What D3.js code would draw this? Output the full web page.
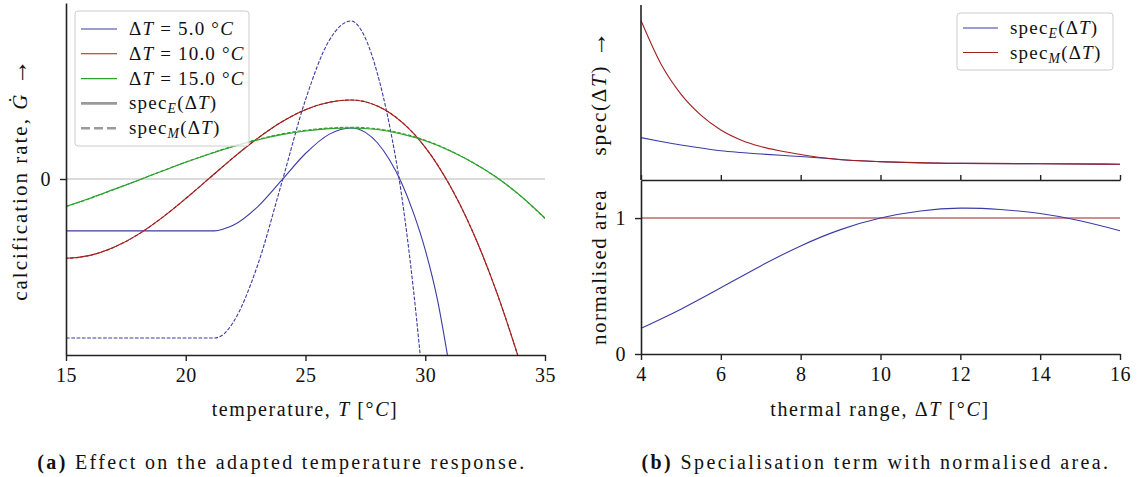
<!DOCTYPE html>
<html>
<head>
<meta charset="utf-8">
<script src="https://cdn.jsdelivr.net/npm/d3@7"></script>
<style>
  body { margin: 0; background: #fff; }
  svg text { font-family: "Liberation Serif", "DejaVu Serif", serif; fill: #111; }
</style>
</head>
<body>
<svg id="drawing_region"></svg>
<script>
// ---- panel (a): calcification rate vs temperature ----
const blueE_T = [15, 21.2, 21.6, 22, 23, 24, 25, 26, 26.9, 27.5, 28, 28.5, 29, 29.5, 30, 30.5, 31];
const blueE_G = [-0.295, -0.295, -0.283, -0.262, -0.158, -0.008, 0.145, 0.255, 0.29, 0.265, 0.206, 0.111, -0.019, -0.19, -0.403, -0.68, -1.06];
const blueM_T = [15, 21.2, 21.6, 22, 23, 24, 25, 26, 26.9, 27.5, 28, 28.5, 29, 29.5, 30];
const blueM_G = [-0.903, -0.903, -0.88, -0.81, -0.49, -0.025, 0.45, 0.79, 0.898, 0.80, 0.60, 0.31, -0.08, -0.62, -1.3];
const red_T   = [14.5, 15, 16, 17, 18, 19, 20, 21, 22, 23, 24, 25, 26, 26.9, 28, 29, 30, 31, 32, 33, 34];
const redE_G  = [-0.45, -0.45, -0.434, -0.388, -0.316, -0.221, -0.111, 0.006, 0.123, 0.231, 0.324, 0.394, 0.436, 0.449, 0.415, 0.326, 0.18, -0.03, -0.305, -0.65, -1.06];
const redM_G  = [-0.45, -0.45, -0.434, -0.388, -0.316, -0.221, -0.111, 0.006, 0.123, 0.231, 0.324, 0.394, 0.436, 0.449, 0.415, 0.326, 0.18, -0.03, -0.305, -0.65, -1.06];
const green_T = [15, 16, 17, 18, 19, 20, 21, 22, 23, 24, 25, 26, 26.9, 28, 29, 30, 31, 32, 33, 34, 35];
const greenE_G = [-0.155, -0.109, -0.059, -0.008, 0.044, 0.095, 0.142, 0.185, 0.222, 0.252, 0.273, 0.286, 0.29, 0.281, 0.256, 0.217, 0.162, 0.092, 0.007, -0.098, -0.222];
const greenM_G = [-0.157, -0.111, -0.060, -0.008, 0.045, 0.096, 0.144, 0.188, 0.225, 0.256, 0.277, 0.290, 0.294, 0.285, 0.260, 0.220, 0.164, 0.093, 0.007, -0.099, -0.225];
const tempTicks = [15, 20, 25, 30, 35];

// ---- panel (b): specialisation term and normalised area ----
const range_dT = [4, 4.5, 5, 5.5, 6, 6.5, 7, 7.5, 8, 8.5, 9, 10, 12, 14, 16];
const specE = [0.242, 0.22, 0.200, 0.183, 0.167, 0.157, 0.149, 0.141, 0.134, 0.126, 0.116, 0.104, 0.095, 0.093, 0.090];
const specM = [0.911, 0.663, 0.491, 0.371, 0.286, 0.229, 0.191, 0.166, 0.146, 0.129, 0.117, 0.105, 0.095, 0.093, 0.090];
const area_dT = [4, 5, 6, 7, 8, 9, 10, 11, 12, 13, 14, 15, 16];
const areaE = [0.189, 0.33, 0.487, 0.648, 0.795, 0.915, 1.0, 1.052, 1.073, 1.063, 1.033, 0.98, 0.907];
const areaM = [1, 1, 1, 1, 1, 1, 1, 1, 1, 1, 1, 1, 1];
const rangeTicks = [4, 6, 8, 10, 12, 14, 16];

const BLUE = '#3b3ba6', RED = '#a12020', GREEN = '#2ca02c', GREY = '#9a9a9a', INK = '#222';

const svg = d3.select('#drawing_region').attr('width', 1137).attr('height', 477);

// write text with italic / subscript parts
function rich(text, parts) {
    parts.forEach(p => {
        const ts = text.append('tspan').text(p.t);
        if (p.i) ts.attr('font-style', 'italic');
        if (p.sub) ts.attr('dy', 4).attr('font-size', '0.72em');
        if (p.back) ts.attr('dy', -4);
        if (p.big) ts.attr('font-size', '1.25em');
    });
    return text;
}
const specParts = s => [{t: 'spec'}, {t: s, i: 1, sub: 1}, {t: '(Δ', back: 1}, {t: 'T', i: 1}, {t: ')'}];
const dTParts = v => [{t: 'Δ'}, {t: 'T', i: 1}, {t: ' = ' + v + ' °'}, {t: 'C', i: 1}];

function styleAxis(g, fs) {
    g.selectAll('path.domain').attr('stroke', INK).attr('stroke-width', 1.6);
    g.selectAll('.tick line').attr('stroke', INK).attr('stroke-width', 1.4);
    g.selectAll('.tick text').attr('fill', '#111').style('font-family', '"Liberation Serif", serif')
        .style('font-size', fs + 'px').style('letter-spacing', '0.5px');
}

// ============ panel (a) ============
const xA = d3.scaleLinear().domain([15, 35]).range([66, 545]);
const yA = d3.scaleLinear().domain([-1, 1]).range([355, 3]);

svg.append('clipPath').attr('id', 'clipA').append('rect')
    .attr('x', xA(15)).attr('y', yA(1)).attr('width', xA(35) - xA(15)).attr('height', yA(-1) - yA(1));

svg.append('line').attr('x1', xA(15)).attr('x2', xA(35)).attr('y1', yA(0)).attr('y2', yA(0))
    .attr('stroke', '#cfcfcf').attr('stroke-width', 1.5);

const plotA = svg.append('g').attr('clip-path', 'url(#clipA)');
const seriesA = [
    {x: blueE_T, y: blueE_G, c: BLUE, dash: null},
    {x: blueM_T, y: blueM_G, c: BLUE, dash: '3.7,1.6'},
    {x: red_T, y: redE_G, c: RED, dash: null},
    {x: red_T, y: redM_G, c: RED, dash: '3.7,1.6'},
    {x: green_T, y: greenE_G, c: GREEN, dash: null},
    {x: green_T, y: greenM_G, c: GREEN, dash: '3.7,1.6'}
];
const lineA = d3.line().x(d => xA(d[0])).y(d => yA(d[1])).curve(d3.curveMonotoneX);
seriesA.forEach(s => {
    plotA.append('path').datum(d3.zip(s.x, s.y))
        .attr('d', lineA).attr('fill', 'none')
        .attr('stroke', s.c).attr('stroke-width', 1.1)
        .attr('stroke-dasharray', s.dash);
});

const axA_x = svg.append('g').attr('transform', `translate(0,${yA(-1)})`)
    .call(d3.axisBottom(xA).tickValues(tempTicks).tickSize(6).tickSizeOuter(0).tickPadding(7));
styleAxis(axA_x, 20);
const axA_y = svg.append('g').attr('transform', `translate(${xA(15)},0)`)
    .call(d3.axisLeft(yA).tickValues([0]).tickFormat(d3.format('d')).tickSize(6).tickSizeOuter(0).tickPadding(9));
styleAxis(axA_y, 20);

rich(svg.append('text').attr('x', 305).attr('y', 416).attr('text-anchor', 'middle')
        .attr('font-size', 20).attr('letter-spacing', 1.6),
    [{t: 'temperature, '}, {t: 'T', i: 1}, {t: ' [°'}, {t: 'C', i: 1}, {t: ']'}]);
rich(svg.append('text').attr('transform', `translate(27,${yA(0)}) rotate(-90)`).attr('text-anchor', 'middle')
        .attr('font-size', 21).attr('letter-spacing', 2.0),
    [{t: 'calcification rate, '}, {t: 'Ġ', i: 1}, {t: ' '}, {t: '→', big: 1}]);

// legend (a)
const legA = svg.append('g');
legA.append('rect').attr('x', 75).attr('y', 11).attr('width', 174).attr('height', 135).attr('rx', 3)
    .attr('fill', 'white').attr('fill-opacity', 0.8).attr('stroke', '#cccccc');
const legAItems = [
    {c: BLUE, w: 1.1, dash: null, parts: dTParts('5.0')},
    {c: RED, w: 1.1, dash: null, parts: dTParts('10.0')},
    {c: GREEN, w: 1.1, dash: null, parts: dTParts('15.0')},
    {c: GREY, w: 2.6, dash: null, parts: specParts('E')},
    {c: GREY, w: 2.6, dash: '9,4', parts: specParts('M')}
];
legAItems.forEach((it, i) => {
    const yy = 29 + i * 24.8;
    legA.append('line').attr('x1', 81).attr('x2', 117).attr('y1', yy).attr('y2', yy)
        .attr('stroke', it.c).attr('stroke-width', it.w).attr('stroke-dasharray', it.dash);
    rich(legA.append('text').attr('x', 129).attr('y', yy + 6).attr('font-size', 19).attr('letter-spacing', 1.2), it.parts);
});

rich(svg.append('text').attr('x', 282).attr('y', 469).attr('text-anchor', 'middle').attr('font-size', 20).attr('letter-spacing', 2.35),
    [{t: '(a)'}, {t: ' Effect on the adapted temperature response.'}]).select('tspan').attr('font-weight', 'bold');

// ============ panel (b) ============
const xB = d3.scaleLinear().domain([4, 16]).range([641, 1120]);
const yTop = d3.scaleLinear().domain([0, 1]).range([180, 5]);
const yBot = d3.scaleLinear().domain([0, 1.28]).range([354, 180]);

const lineTop = d3.line().x(d => xB(d[0])).y(d => yTop(d[1])).curve(d3.curveMonotoneX);
const lineBot = d3.line().x(d => xB(d[0])).y(d => yBot(d[1])).curve(d3.curveNatural);

[[specE, BLUE], [specM, RED]].forEach(([v, c]) => {
    svg.append('path').datum(d3.zip(range_dT, v)).attr('d', lineTop)
        .attr('fill', 'none').attr('stroke', c).attr('stroke-width', 1.1);
});
[[areaM, RED], [areaE, BLUE]].forEach(([v, c]) => {
    svg.append('path').datum(d3.zip(area_dT, v)).attr('d', lineBot)
        .attr('fill', 'none').attr('stroke', c).attr('stroke-width', 1.1);
});

// top panel spines
svg.append('line').attr('x1', xB(4)).attr('x2', xB(4)).attr('y1', yTop(1)).attr('y2', yTop(0))
    .attr('stroke', INK).attr('stroke-width', 1.6);
const axTop = svg.append('g').attr('transform', `translate(0,${yTop(0)})`)
    .call(d3.axisTop(xB).tickValues(rangeTicks).tickSize(5).tickSizeOuter(0).tickFormat(''));
styleAxis(axTop, 20);

const axB_x = svg.append('g').attr('transform', `translate(0,${yBot(0)})`)
    .call(d3.axisBottom(xB).tickValues(rangeTicks).tickSize(6).tickSizeOuter(0).tickPadding(7));
styleAxis(axB_x, 20);
const axB_y = svg.append('g').attr('transform', `translate(${xB(4)},0)`)
    .call(d3.axisLeft(yBot).tickValues([0, 1]).tickFormat(d3.format('d')).tickSize(6).tickSizeOuter(0).tickPadding(9));
styleAxis(axB_y, 20);

rich(svg.append('text').attr('x', 880).attr('y', 416).attr('text-anchor', 'middle')
        .attr('font-size', 20).attr('letter-spacing', 1.6),
    [{t: 'thermal range, Δ'}, {t: 'T', i: 1}, {t: ' [°'}, {t: 'C', i: 1}, {t: ']'}]);
rich(svg.append('text').attr('transform', `translate(606,${(yTop(0) + yTop(1)) / 2}) rotate(-90)`).attr('text-anchor', 'middle')
        .attr('font-size', 21).attr('letter-spacing', 1.8),
    [{t: 'spec(Δ'}, {t: 'T', i: 1}, {t: ') '}, {t: '→', big: 1}]);
svg.append('text').attr('transform', `translate(606,${(yBot(0) + yBot(1.28)) / 2}) rotate(-90)`)
    .attr('text-anchor', 'middle').attr('font-size', 21).attr('letter-spacing', 1.5).text('normalised area');

// legend (b)
const legB = svg.append('g');
legB.append('rect').attr('x', 957).attr('y', 13).attr('width', 156).attr('height', 57).attr('rx', 3)
    .attr('fill', 'white').attr('fill-opacity', 0.8).attr('stroke', '#cccccc');
[[BLUE, 'E'], [RED, 'M']].forEach(([c, s], i) => {
    const yy = 28 + i * 24.5;
    legB.append('line').attr('x1', 963).attr('x2', 998).attr('y1', yy).attr('y2', yy)
        .attr('stroke', c).attr('stroke-width', 1.1);
    rich(legB.append('text').attr('x', 1010).attr('y', yy + 6).attr('font-size', 19).attr('letter-spacing', 1.2), specParts(s));
});

rich(svg.append('text').attr('x', 876).attr('y', 469).attr('text-anchor', 'middle').attr('font-size', 20).attr('letter-spacing', 2.4),
    [{t: '(b)'}, {t: ' Specialisation term with normalised area.'}]).select('tspan').attr('font-weight', 'bold');
</script>
</body>
</html>
